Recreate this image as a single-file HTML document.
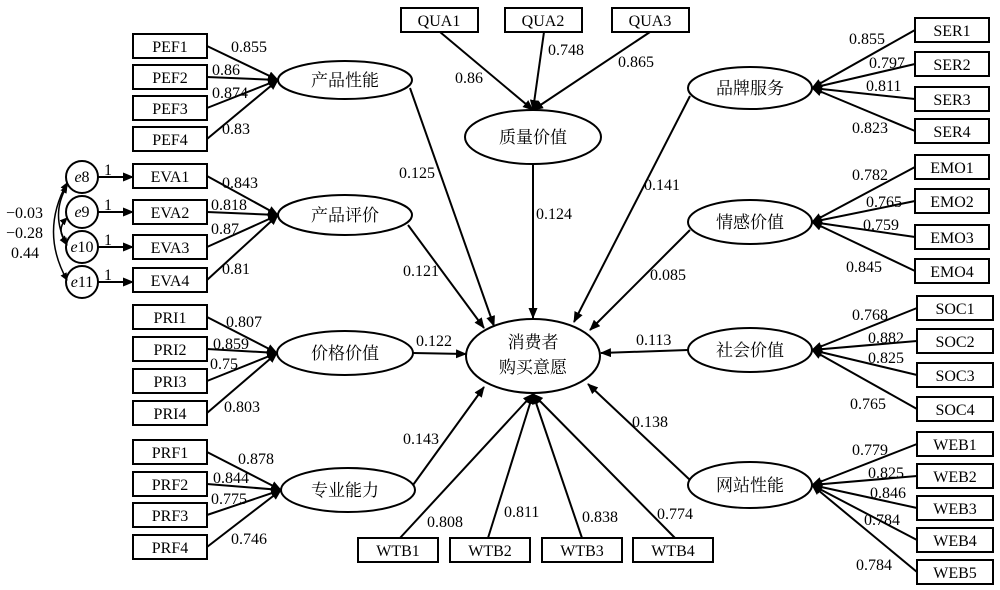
<!DOCTYPE html>
<html><head><meta charset="utf-8"><style>
html,body{margin:0;padding:0;background:#fff}
svg{display:block}
text{font-family:"Liberation Serif","Noto Serif CJK SC",serif;font-size:16px;fill:#000}
.c{font-family:"Liberation Serif","Noto Serif CJK SC",serif;font-size:17px}
</style></head><body>
<svg width="1000" height="590" viewBox="0 0 1000 590" xmlns="http://www.w3.org/2000/svg">
<defs>
<marker id="a" markerWidth="11" markerHeight="9" refX="10" refY="4.5" orient="auto" markerUnits="userSpaceOnUse"><path d="M0,0 L11,4.5 L0,9 z" fill="#000"/></marker>
<marker id="s" markerWidth="8" markerHeight="7" refX="7" refY="3.5" orient="auto-start-reverse" markerUnits="userSpaceOnUse"><path d="M0,0 L8,3.5 L0,7 z" fill="#000"/></marker>
</defs>
<g stroke="#000" stroke-width="2" fill="none">
<rect x="133" y="34" width="74" height="24"/><rect x="133" y="65" width="74" height="24"/><rect x="133" y="96" width="74" height="24"/><rect x="133" y="127" width="74" height="24"/>
<rect x="133" y="164" width="74" height="24"/><rect x="133" y="200" width="74" height="24"/><rect x="133" y="235" width="74" height="24"/><rect x="133" y="268" width="74" height="24"/>
<rect x="133" y="305" width="74" height="24"/><rect x="133" y="337" width="74" height="24"/><rect x="133" y="369" width="74" height="24"/><rect x="133" y="401" width="74" height="24"/>
<rect x="133" y="440" width="74" height="24"/><rect x="133" y="472" width="74" height="24"/><rect x="133" y="503" width="74" height="24"/><rect x="133" y="535" width="74" height="24"/>
<rect x="401" y="8" width="77" height="24"/><rect x="505" y="8" width="77" height="24"/><rect x="612" y="8" width="77" height="24"/>
<rect x="915" y="18" width="74" height="24"/><rect x="915" y="52" width="74" height="24"/><rect x="915" y="87" width="74" height="24"/><rect x="915" y="119" width="74" height="24"/>
<rect x="915" y="155" width="74" height="24"/><rect x="915" y="189" width="74" height="24"/><rect x="915" y="225" width="74" height="24"/><rect x="915" y="259" width="74" height="24"/>
<rect x="917" y="296" width="76" height="24"/><rect x="917" y="329" width="76" height="24"/><rect x="917" y="363" width="76" height="24"/><rect x="917" y="397" width="76" height="24"/>
<rect x="917" y="432" width="76" height="24"/><rect x="917" y="464" width="76" height="24"/><rect x="917" y="496" width="76" height="24"/><rect x="917" y="528" width="76" height="24"/><rect x="917" y="560" width="76" height="24"/>
<rect x="358" y="538" width="80" height="24"/><rect x="450" y="538" width="80" height="24"/><rect x="542" y="538" width="80" height="24"/><rect x="633" y="538" width="80" height="24"/>
<ellipse cx="345" cy="80" rx="67" ry="19"/><ellipse cx="345" cy="215" rx="67" ry="20"/><ellipse cx="345" cy="353" rx="68" ry="22"/><ellipse cx="348" cy="490" rx="67" ry="22"/>
<ellipse cx="533" cy="137" rx="68" ry="27"/><ellipse cx="533" cy="356" rx="67" ry="37"/>
<ellipse cx="750" cy="88" rx="62" ry="21"/><ellipse cx="750" cy="222" rx="62" ry="22"/><ellipse cx="750" cy="350" rx="62" ry="22"/><ellipse cx="750" cy="485" rx="62" ry="23"/>
<circle cx="82" cy="177" r="16"/><circle cx="82" cy="212" r="16"/><circle cx="82" cy="247" r="16"/><circle cx="82" cy="282" r="16"/>
<g marker-end="url(#a)">
<line x1="207" y1="46" x2="278" y2="80"/><line x1="207" y1="77" x2="278" y2="80"/><line x1="207" y1="108" x2="278" y2="80"/><line x1="207" y1="139" x2="278" y2="80"/>
<line x1="207" y1="176" x2="278" y2="215"/><line x1="207" y1="212" x2="278" y2="215"/><line x1="207" y1="247" x2="278" y2="215"/><line x1="207" y1="280" x2="278" y2="215"/>
<line x1="207" y1="317" x2="277" y2="353"/><line x1="207" y1="349" x2="277" y2="353"/><line x1="207" y1="381" x2="277" y2="353"/><line x1="207" y1="413" x2="277" y2="353"/>
<line x1="207" y1="452" x2="281" y2="490"/><line x1="207" y1="484" x2="281" y2="490"/><line x1="207" y1="515" x2="281" y2="490"/><line x1="207" y1="547" x2="281" y2="490"/>
<line x1="98" y1="177" x2="133" y2="177"/><line x1="98" y1="212" x2="133" y2="212"/><line x1="98" y1="247" x2="133" y2="247"/><line x1="98" y1="282" x2="133" y2="282"/>
<line x1="440" y1="32" x2="533" y2="110"/><line x1="544" y1="32" x2="533" y2="110"/><line x1="650" y1="32" x2="533" y2="110"/>
<line x1="915" y1="30" x2="812" y2="88"/><line x1="915" y1="64" x2="812" y2="88"/><line x1="915" y1="99" x2="812" y2="88"/><line x1="915" y1="131" x2="812" y2="88"/>
<line x1="915" y1="167" x2="812" y2="222"/><line x1="915" y1="201" x2="812" y2="222"/><line x1="915" y1="237" x2="812" y2="222"/><line x1="915" y1="271" x2="812" y2="222"/>
<line x1="917" y1="308" x2="812" y2="350"/><line x1="917" y1="341" x2="812" y2="350"/><line x1="917" y1="375" x2="812" y2="350"/><line x1="917" y1="409" x2="812" y2="350"/>
<line x1="917" y1="444" x2="812" y2="485"/><line x1="917" y1="476" x2="812" y2="485"/><line x1="917" y1="508" x2="812" y2="485"/><line x1="917" y1="540" x2="812" y2="485"/><line x1="917" y1="572" x2="812" y2="485"/>
<line x1="410" y1="88" x2="494" y2="326"/><line x1="408" y1="225" x2="484" y2="328"/><line x1="413" y1="353" x2="466" y2="354"/><line x1="413" y1="485" x2="484" y2="387"/>
<line x1="533" y1="164" x2="533" y2="318"/>
<line x1="690" y1="96" x2="574" y2="322"/><line x1="690" y1="230" x2="590" y2="330"/><line x1="688" y1="350" x2="601" y2="353"/><line x1="690" y1="480" x2="588" y2="384"/>
<line x1="400" y1="538" x2="533" y2="394"/><line x1="488" y1="538" x2="533" y2="394"/><line x1="582" y1="538" x2="533" y2="394"/><line x1="675" y1="538" x2="533" y2="394"/>
</g>
<g stroke-width="1.5" marker-start="url(#s)" marker-end="url(#s)">
<path d="M67,183 Q40,232 67,280"/>
<path d="M67,218 Q55,230 67,243"/>
<path d="M67,186 Q50,215 67,245"/>
</g>
</g>
<g>
<text x="170" y="52" text-anchor="middle">PEF1</text><text x="170" y="83" text-anchor="middle">PEF2</text><text x="170" y="114" text-anchor="middle">PEF3</text><text x="170" y="145" text-anchor="middle">PEF4</text>
<text x="170" y="182" text-anchor="middle">EVA1</text><text x="170" y="218" text-anchor="middle">EVA2</text><text x="170" y="253" text-anchor="middle">EVA3</text><text x="170" y="286" text-anchor="middle">EVA4</text>
<text x="170" y="323" text-anchor="middle">PRI1</text><text x="170" y="355" text-anchor="middle">PRI2</text><text x="170" y="387" text-anchor="middle">PRI3</text><text x="170" y="419" text-anchor="middle">PRI4</text>
<text x="170" y="458" text-anchor="middle">PRF1</text><text x="170" y="490" text-anchor="middle">PRF2</text><text x="170" y="521" text-anchor="middle">PRF3</text><text x="170" y="553" text-anchor="middle">PRF4</text>
<text x="439" y="26" text-anchor="middle">QUA1</text><text x="543" y="26" text-anchor="middle">QUA2</text><text x="650" y="26" text-anchor="middle">QUA3</text>
<text x="952" y="36" text-anchor="middle">SER1</text><text x="952" y="70" text-anchor="middle">SER2</text><text x="952" y="105" text-anchor="middle">SER3</text><text x="952" y="137" text-anchor="middle">SER4</text>
<text x="952" y="173" text-anchor="middle">EMO1</text><text x="952" y="207" text-anchor="middle">EMO2</text><text x="952" y="243" text-anchor="middle">EMO3</text><text x="952" y="277" text-anchor="middle">EMO4</text>
<text x="955" y="314" text-anchor="middle">SOC1</text><text x="955" y="347" text-anchor="middle">SOC2</text><text x="955" y="381" text-anchor="middle">SOC3</text><text x="955" y="415" text-anchor="middle">SOC4</text>
<text x="955" y="450" text-anchor="middle">WEB1</text><text x="955" y="482" text-anchor="middle">WEB2</text><text x="955" y="514" text-anchor="middle">WEB3</text><text x="955" y="546" text-anchor="middle">WEB4</text><text x="955" y="578" text-anchor="middle">WEB5</text>
<text x="398" y="556" text-anchor="middle">WTB1</text><text x="490" y="556" text-anchor="middle">WTB2</text><text x="582" y="556" text-anchor="middle">WTB3</text><text x="673" y="556" text-anchor="middle">WTB4</text>
<text class="c" x="345" y="86" text-anchor="middle">产品性能</text><text class="c" x="345" y="221" text-anchor="middle">产品评价</text><text class="c" x="345" y="359" text-anchor="middle">价格价值</text><text class="c" x="345" y="496" text-anchor="middle">专业能力</text>
<text class="c" x="533" y="143" text-anchor="middle">质量价值</text><text class="c" x="533" y="348" text-anchor="middle">消费者</text><text class="c" x="533" y="373" text-anchor="middle">购买意愿</text>
<text class="c" x="750" y="94" text-anchor="middle">品牌服务</text><text class="c" x="750" y="228" text-anchor="middle">情感价值</text><text class="c" x="750" y="356" text-anchor="middle">社会价值</text><text class="c" x="750" y="491" text-anchor="middle">网站性能</text>
<text x="82" y="182" text-anchor="middle" font-style="italic">e<tspan font-style="normal">8</tspan></text><text x="82" y="217" text-anchor="middle" font-style="italic">e<tspan font-style="normal">9</tspan></text><text x="82" y="252" text-anchor="middle" font-style="italic">e<tspan font-style="normal">10</tspan></text><text x="82" y="287" text-anchor="middle" font-style="italic">e<tspan font-style="normal">11</tspan></text>
<text x="104" y="175">1</text><text x="104" y="210">1</text><text x="104" y="245">1</text><text x="104" y="280">1</text>
<text x="6" y="218">−0.03</text><text x="6" y="238">−0.28</text><text x="11" y="258">0.44</text>
<text x="231" y="52">0.855</text><text x="212" y="75">0.86</text><text x="212" y="98">0.874</text><text x="222" y="134">0.83</text>
<text x="222" y="188">0.843</text><text x="211" y="210">0.818</text><text x="211" y="234">0.87</text><text x="222" y="274">0.81</text>
<text x="226" y="327">0.807</text><text x="213" y="349">0.859</text><text x="210" y="369">0.75</text><text x="224" y="412">0.803</text>
<text x="238" y="464">0.878</text><text x="213" y="483">0.844</text><text x="211" y="504">0.775</text><text x="231" y="544">0.746</text>
<text x="455" y="83">0.86</text><text x="548" y="55">0.748</text><text x="618" y="67">0.865</text>
<text x="399" y="178">0.125</text><text x="403" y="276">0.121</text><text x="416" y="346">0.122</text><text x="403" y="444">0.143</text><text x="536" y="219">0.124</text>
<text x="644" y="190">0.141</text><text x="650" y="280">0.085</text><text x="636" y="345">0.113</text><text x="632" y="427">0.138</text>
<text x="849" y="44">0.855</text><text x="869" y="68">0.797</text><text x="866" y="91">0.811</text><text x="852" y="133">0.823</text>
<text x="852" y="180">0.782</text><text x="866" y="207">0.765</text><text x="863" y="230">0.759</text><text x="846" y="272">0.845</text>
<text x="852" y="320">0.768</text><text x="868" y="343">0.882</text><text x="868" y="363">0.825</text><text x="850" y="409">0.765</text>
<text x="852" y="455">0.779</text><text x="868" y="478">0.825</text><text x="870" y="498">0.846</text><text x="864" y="525">0.784</text><text x="856" y="570">0.784</text>
<text x="427" y="527">0.808</text><text x="504" y="517">0.811</text><text x="582" y="522">0.838</text><text x="657" y="519">0.774</text>
</g>
</svg>
</body></html>
